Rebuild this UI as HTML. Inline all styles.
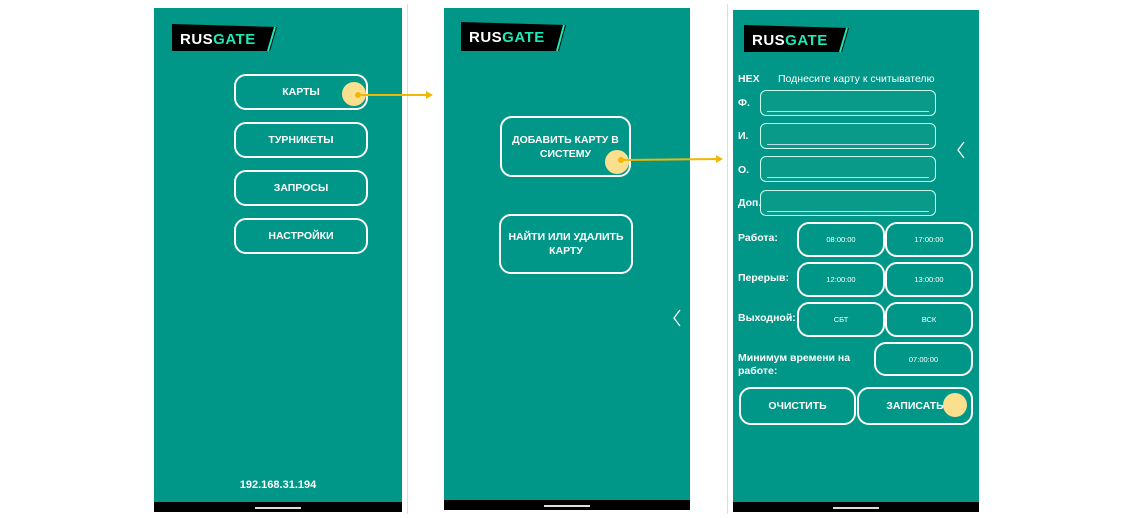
<!DOCTYPE html>
<html><head><meta charset="utf-8"><style>
*{margin:0;padding:0;box-sizing:border-box}
body{width:1132px;height:518px;background:#fff;position:relative;overflow:hidden;font-family:"Liberation Sans",sans-serif;color:#fff}
.a{position:absolute}
.scr{position:absolute;background:#009688}
.bar{position:absolute;background:#000;height:10px}
.bar:after{content:"";position:absolute;left:50%;top:5px;width:46px;margin-left:-23px;height:2px;background:#ddd}
.btn{position:absolute;border:2px solid #fff;border-radius:12px;display:flex;align-items:center;justify-content:center;text-align:center;font-weight:bold;font-size:10.5px;line-height:14px;color:#fff}
.fld{position:absolute;border:1px solid #cfe;border-radius:6px;background:#0a9a8a}
.fld:after{content:"";position:absolute;left:6px;right:6px;bottom:3px;height:1px;background:#bde}
.lb{position:absolute;font-weight:bold;font-size:10.5px;line-height:13px}
.sb{position:absolute;border:2px solid #fff;border-radius:12px;display:flex;align-items:center;justify-content:center;font-size:7.5px}
.sep{position:absolute;width:1px;background:#ddd;top:4px;height:510px}
</style></head><body>
<div class="sep" style="left:407px"></div>
<div class="sep" style="left:727px"></div>

<!-- panel 1 -->
<div class="scr" style="left:154px;top:8px;width:248px;height:494px"></div>
<div class="bar" style="left:154px;top:502px;width:248px"></div>
<div class="btn" style="left:234px;top:74px;width:134px;height:36px">КАРТЫ</div>
<div class="btn" style="left:234px;top:122px;width:134px;height:36px">ТУРНИКЕТЫ</div>
<div class="btn" style="left:234px;top:170px;width:134px;height:36px">ЗАПРОСЫ</div>
<div class="btn" style="left:234px;top:218px;width:134px;height:36px">НАСТРОЙКИ</div>
<div class="a" style="left:154px;top:479px;width:248px;text-align:center;font-weight:bold;font-size:11px">192.168.31.194</div>

<!-- panel 2 -->
<div class="scr" style="left:444px;top:8px;width:246px;height:492px"></div>
<div class="bar" style="left:444px;top:500px;width:246px"></div>
<div class="btn" style="left:500px;top:116px;width:131px;height:61px;padding:0 2px">ДОБАВИТЬ КАРТУ В<br>СИСТЕМУ</div>
<div class="btn" style="left:499px;top:214px;width:134px;height:60px;padding:0 2px">НАЙТИ ИЛИ УДАЛИТЬ<br>КАРТУ</div>

<!-- panel 3 -->
<div class="scr" style="left:733px;top:10px;width:246px;height:492px"></div>
<div class="bar" style="left:733px;top:502px;width:246px"></div>
<div class="lb" style="left:738px;top:73px">HEX</div>
<div class="a" style="left:778px;top:73px;font-size:10.5px">Поднесите карту к считывателю</div>
<div class="lb" style="left:738px;top:97px">Ф.</div>
<div class="lb" style="left:738px;top:130px">И.</div>
<div class="lb" style="left:738px;top:164px">О.</div>
<div class="lb" style="left:738px;top:197px">Доп.</div>
<div class="fld" style="left:760px;top:90px;width:176px;height:26px"></div>
<div class="fld" style="left:760px;top:123px;width:176px;height:26px"></div>
<div class="fld" style="left:760px;top:156px;width:176px;height:26px"></div>
<div class="fld" style="left:760px;top:190px;width:176px;height:26px"></div>

<div class="lb" style="left:738px;top:232px">Работа:</div>
<div class="lb" style="left:738px;top:272px">Перерыв:</div>
<div class="lb" style="left:738px;top:312px">Выходной:</div>
<div class="lb" style="left:738px;top:352px;width:120px">Минимум времени на работе:</div>
<div class="sb" style="left:797px;top:222px;width:88px;height:35px">08:00:00</div>
<div class="sb" style="left:885px;top:222px;width:88px;height:35px">17:00:00</div>
<div class="sb" style="left:797px;top:262px;width:88px;height:35px">12:00:00</div>
<div class="sb" style="left:885px;top:262px;width:88px;height:35px">13:00:00</div>
<div class="sb" style="left:797px;top:302px;width:88px;height:35px">СБТ</div>
<div class="sb" style="left:885px;top:302px;width:88px;height:35px">ВСК</div>
<div class="sb" style="left:874px;top:342px;width:99px;height:34px">07:00:00</div>
<div class="btn" style="left:739px;top:387px;width:117px;height:38px">ОЧИСТИТЬ</div>
<div class="btn" style="left:857px;top:387px;width:116px;height:38px">ЗАПИСАТЬ</div>

<svg class="a" style="left:0;top:0" width="1132" height="518">
<polygon points="172,24 277,27 270,51 172,51" fill="#000"/>
<line x1="275" y1="27" x2="268" y2="51" stroke="#1de9b6" stroke-width="2"/>
<text x="180" y="44" font-family="Liberation Sans" font-weight="bold" font-size="15" fill="#fff" letter-spacing="0.5">RUS<tspan fill="#1de9b6">GATE</tspan></text>
<polygon points="461,22 566,25 559,51 461,51" fill="#000"/>
<line x1="564" y1="25" x2="557" y2="51" stroke="#1de9b6" stroke-width="2"/>
<text x="469" y="42" font-family="Liberation Sans" font-weight="bold" font-size="15" fill="#fff" letter-spacing="0.5">RUS<tspan fill="#1de9b6">GATE</tspan></text>
<polygon points="744,25 849,28 842,52 744,52" fill="#000"/>
<line x1="847" y1="28" x2="840" y2="52" stroke="#1de9b6" stroke-width="2"/>
<text x="752" y="45" font-family="Liberation Sans" font-weight="bold" font-size="15" fill="#fff" letter-spacing="0.5">RUS<tspan fill="#1de9b6">GATE</tspan></text>
<polyline points="680,310 674,318 680,326" fill="none" stroke="#fff" stroke-width="1.3"/>
<polyline points="964,142 958,150 964,158" fill="none" stroke="#fff" stroke-width="1.3"/>
<circle cx="354" cy="94" r="12" fill="#fadf8e"/>
<circle cx="358" cy="95" r="3" fill="#f2b705"/>
<line x1="358" y1="95" x2="428" y2="95" stroke="#f2b705" stroke-width="2"/>
<polygon points="433,95 426,91 426,99" fill="#f2b705"/>
<circle cx="617" cy="162" r="12" fill="#fadf8e"/>
<circle cx="621" cy="160" r="3" fill="#f2b705"/>
<line x1="621" y1="160" x2="718" y2="159" stroke="#f2b705" stroke-width="2"/>
<polygon points="723,159 716,155 716,163" fill="#f2b705"/>
<circle cx="955" cy="405" r="12" fill="#fadf8e"/>
</svg>
</body></html>
